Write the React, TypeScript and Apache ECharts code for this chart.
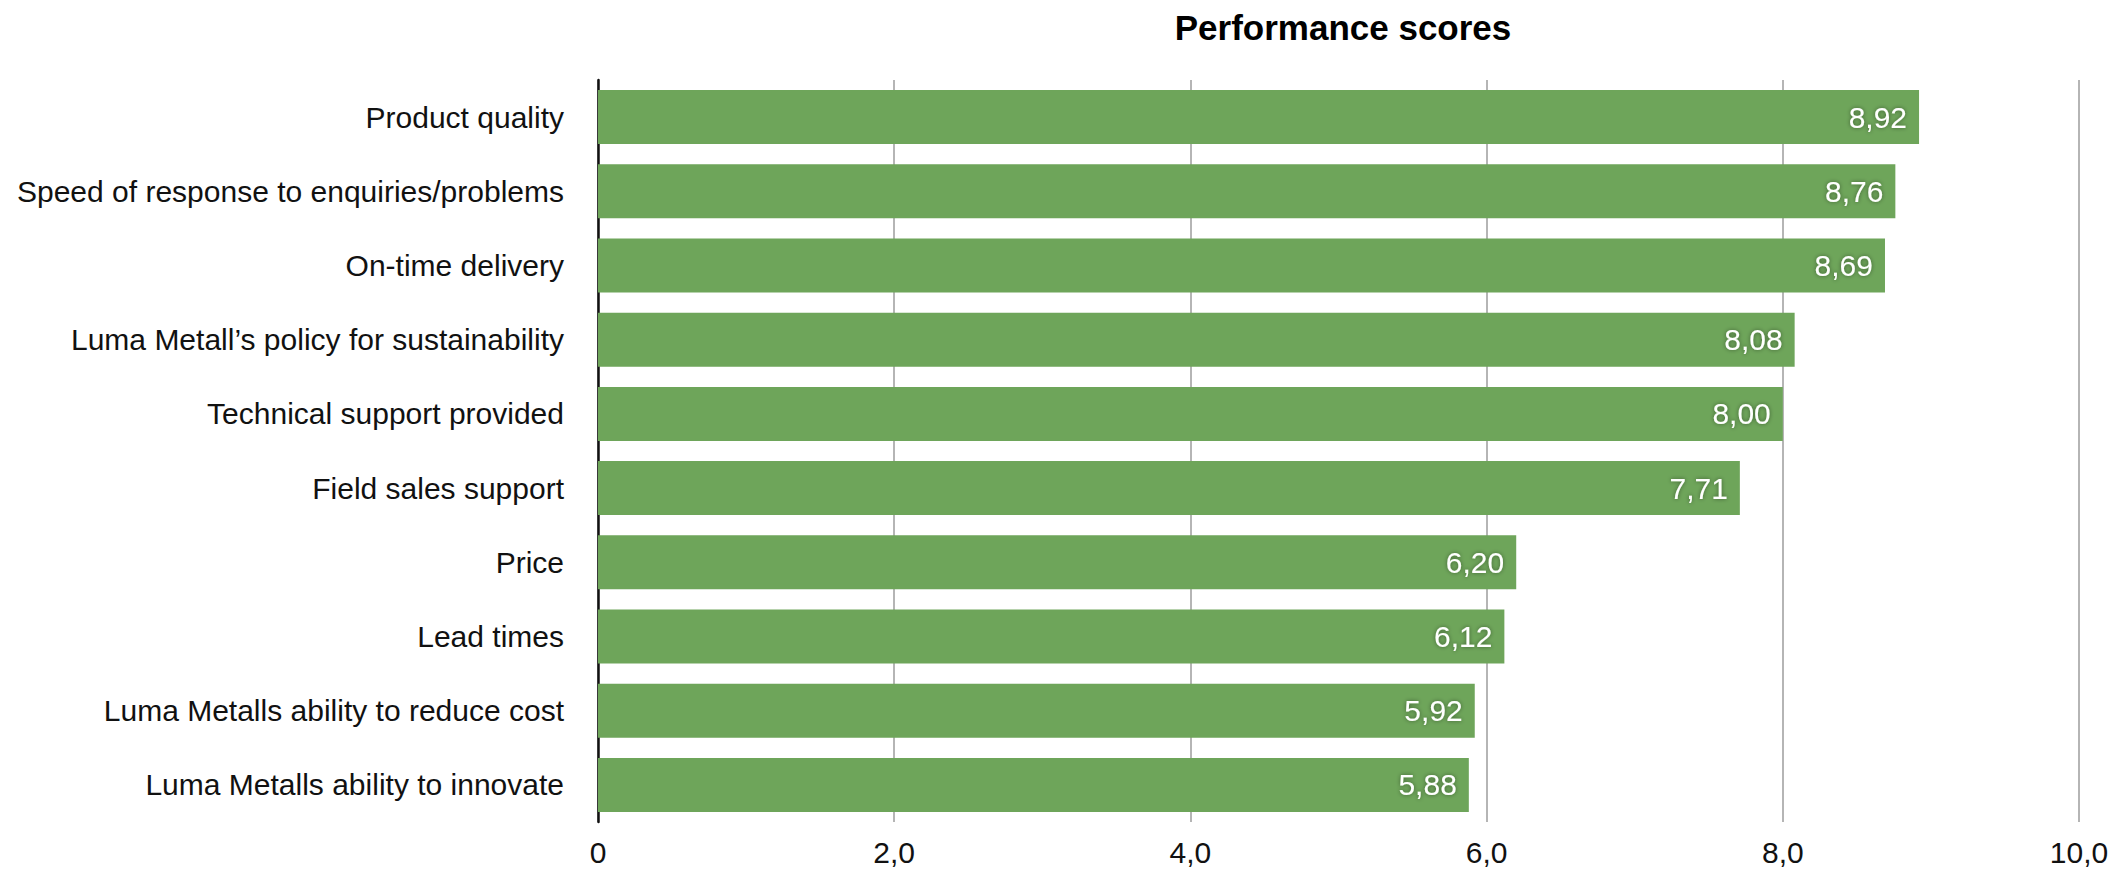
import React, { useEffect, useRef } from "react";
import * as echarts from "echarts";

const categories = [
  "Product quality",
  "Speed of response to enquiries/problems",
  "On-time delivery",
  "Luma Metall’s policy for sustainability",
  "Technical support provided",
  "Field sales support",
  "Price",
  "Lead times",
  "Luma Metalls ability to reduce cost",
  "Luma Metalls ability to innovate",
];

const scores = [8.92, 8.76, 8.69, 8.08, 8.0, 7.71, 6.2, 6.12, 5.92, 5.88];

const xTicks = { min: 0, max: 10, interval: 2 };

const FONT = 'Helvetica, "Liberation Sans", Arial, sans-serif';

const comma = (v: number, d: number) => v.toFixed(d).replace(".", ",");

export default function App() {
  const ref = useRef<HTMLDivElement>(null);
  useEffect(() => {
    if (!ref.current) return;
    const chart = echarts.init(ref.current, undefined, { renderer: "svg" });
    chart.setOption({
      animation: false,
      title: {
        text: "Performance scores",
        left: 1330,
        top: -3,
        textAlign: "center",
        textStyle: { fontFamily: FONT, fontSize: 35, fontWeight: "bold", color: "#000" },
      },
      grid: { left: 590, right: 37, top: 72, bottom: 41, containLabel: false },
      xAxis: {
        type: "value",
        min: xTicks.min,
        max: xTicks.max,
        interval: xTicks.interval,
        axisLine: { show: false },
        axisTick: { show: false },
        splitLine: { show: true, lineStyle: { color: "#b5b5b5", width: 2 } },
        axisLabel: {
          fontFamily: FONT,
          fontSize: 30,
          color: "#111",
          margin: 15,
          formatter: (v: number) => (v === 0 ? "0" : comma(v, 1)),
        },
      },
      yAxis: {
        type: "category",
        data: categories,
        inverse: true,
        axisTick: { show: false },
        axisLine: { show: true, lineStyle: { color: "#111", width: 2.5 } },
        axisLabel: { fontFamily: FONT, fontSize: 30, color: "#111", margin: 34 },
      },
      series: [
        {
          type: "bar",
          data: scores,
          barWidth: 54,
          itemStyle: { color: "#6ea55a" },
          label: {
            show: true,
            position: "insideRight",
            distance: 12,
            fontFamily: FONT,
            fontSize: 30,
            color: "#fff",
            textShadowColor: "rgba(0,0,0,0.45)",
            textShadowBlur: 4,
            formatter: (p: any) => comma(p.value, 2),
          },
        },
      ],
    });
    return () => chart.dispose();
  }, []);
  return <div ref={ref} style={{ width: 2108, height: 859 }} />;
}
